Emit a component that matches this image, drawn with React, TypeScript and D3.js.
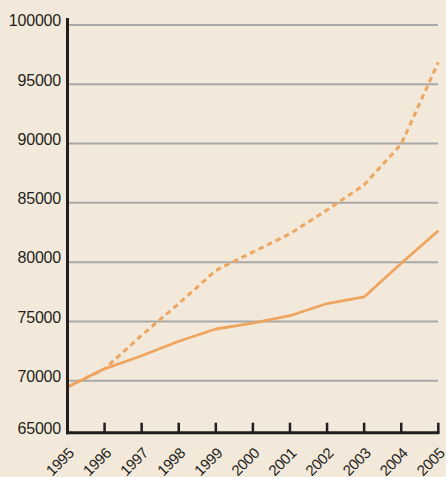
import React, { useEffect, useRef } from 'react';
import * as d3 from 'd3';

const years = [1995, 1996, 1997, 1998, 1999, 2000, 2001, 2002, 2003, 2004, 2005];
const solidValues = [69400, 71000, 72100, 73330, 74360, 74850, 75480, 76510, 77060, 79900, 82650];
const dashedValues = [69400, 71000, 73830, 76500, 79300, 80850, 82400, 84390, 86520, 89950, 96850];
const yTicks = [65000, 70000, 75000, 80000, 85000, 90000, 95000, 100000];

const width = 446;
const height = 477;
const axisX = 67.5;
const axisY = 432.7;
const lineColor = '#eea560';

const App = () => {
  const ref = useRef<SVGGElement | null>(null);

  useEffect(() => {
    const g = d3.select(ref.current);
    g.selectAll('*').remove();

    const x = d3.scaleLinear().domain([1995, 2005]).range([axisX, 438.3]);
    // bottom axis sits a little above the 65000 mark in the original
    const y = d3
      .scaleLinear()
      .domain([65000, 70000, 100000])
      .range([axisY, 380.7, 25]);

    g.append('rect')
      .attr('width', width)
      .attr('height', height)
      .attr('fill', '#f3e9da');

    // gridlines
    g.selectAll('.grid')
      .data(yTicks.filter((d) => d > 65000))
      .join('line')
      .attr('class', 'grid')
      .attr('x1', axisX + 1)
      .attr('x2', 438)
      .attr('y1', (d) => y(d))
      .attr('y2', (d) => y(d))
      .attr('stroke', '#a8a8a8')
      .attr('stroke-width', 2);

    // y labels
    g.selectAll('.ylab')
      .data(yTicks)
      .join('text')
      .attr('class', 'ylab')
      .attr('x', 61)
      .attr('y', (d) => y(d) - 4.5)
      .attr('dy', '0.36em')
      .attr('text-anchor', 'end')
      .attr('font-family', 'Liberation Sans, Arial, sans-serif')
      .attr('font-size', 16)
      .attr('letter-spacing', -0.2)
      .attr('fill', '#231f20')
      .text((d) => d);

    const line = (vals: number[]) =>
      d3
        .line<number>()
        .x((_, i) => x(years[i]))
        .y((d) => y(d))(vals);

    g.append('path')
      .attr('d', line(dashedValues))
      .attr('fill', 'none')
      .attr('stroke', lineColor)
      .attr('stroke-width', 3)
      .attr('stroke-dasharray', '5.5,4');

    g.append('path')
      .attr('d', line(solidValues))
      .attr('fill', 'none')
      .attr('stroke', lineColor)
      .attr('stroke-width', 2.8)
      .attr('stroke-linejoin', 'round');

    // axes
    g.append('line')
      .attr('x1', axisX)
      .attr('x2', axisX)
      .attr('y1', 18)
      .attr('y2', axisY + 1.5)
      .attr('stroke', '#231f20')
      .attr('stroke-width', 3);

    g.append('line')
      .attr('x1', axisX - 1.5)
      .attr('x2', 439.5)
      .attr('y1', axisY)
      .attr('y2', axisY)
      .attr('stroke', '#231f20')
      .attr('stroke-width', 3);

    g.selectAll('.xtick')
      .data(years.slice(1))
      .join('line')
      .attr('class', 'xtick')
      .attr('x1', (d) => x(d))
      .attr('x2', (d) => x(d))
      .attr('y1', axisY - 10)
      .attr('y2', axisY)
      .attr('stroke', '#231f20')
      .attr('stroke-width', 2.5);

    g.selectAll('.xlab')
      .data(years)
      .join('text')
      .attr('class', 'xlab')
      .attr('transform', (d) => `translate(${x(d) + 7.5}, 454) rotate(-45)`)
      .attr('text-anchor', 'end')
      .attr('font-family', 'Liberation Sans, Arial, sans-serif')
      .attr('font-size', 15)
      .attr('letter-spacing', -0.3)
      .attr('fill', '#231f20')
      .text((d) => d);
  }, []);

  return (
    <svg
      width={width}
      height={height}
      style={{ position: 'absolute', left: 0, top: 0, display: 'block' }}
    >
      <g ref={ref} />
    </svg>
  );
};

export default App;
